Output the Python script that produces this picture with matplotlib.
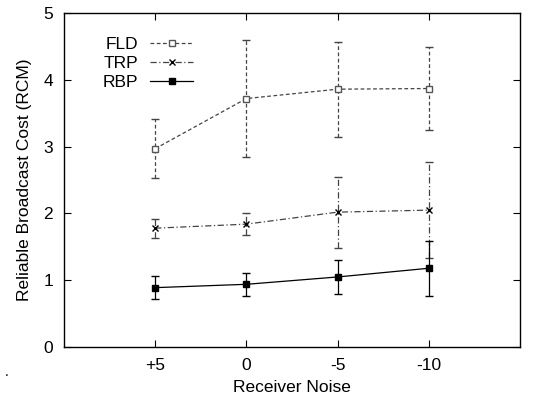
import matplotlib
matplotlib.use("Agg")
import matplotlib.pyplot as plt

plt.rcParams["font.family"] = ["Liberation Sans", "DejaVu Sans"]

categories = ["+5", "0", "-5", "-10"]
fld = [2.97, 3.72, 3.86, 3.87]
fld_err = [0.44, 0.88, 0.71, 0.62]
trp = [1.78, 1.84, 2.02, 2.05]
trp_err = [0.14, 0.16, 0.53, 0.72]
rbp = [0.89, 0.94, 1.05, 1.18]
rbp_err = [0.17, 0.17, 0.25, 0.41]

x = list(range(1, len(categories) + 1))

fig = plt.figure(figsize=(5.49, 3.94), dpi=100)
ax = fig.add_axes([0.1166, 0.119, 0.8306, 0.848])

series = [
    ("FLD", fld, fld_err, dict(ls=(0, (3, 2)), marker="s", mfc="white", mec="#555555", color="#444444", ms=5)),
    ("TRP", trp, trp_err, dict(ls=(0, (5, 2, 1, 2)), marker="x", color="#444444", mec="black", ms=4.5)),
    ("RBP", rbp, rbp_err, dict(ls="-", marker="s", mfc="black", mec="black", color="black", ms=5)),
]
handles = []
for name, vals, errs, st in series:
    line, caps, bars = ax.errorbar(x, vals, yerr=errs, capsize=3, elinewidth=0.9,
                                   lw=0.9, label=name, **st)
    for b in bars:
        b.set_linestyle(st["ls"])
    handles.append(line)

ax.set_xlim(0, 5)
ax.set_ylim(0, 5)
ax.set_xticks(x)
ax.set_xticklabels(categories)
ax.set_yticks(range(6))
ax.tick_params(direction="in", top=True, right=True, length=5, labelsize=12.5, pad=8)
for s in ax.spines.values():
    s.set_linewidth(1.0)

ax.set_xlabel("Receiver Noise", fontsize=12.5, labelpad=5)
ax.set_ylabel("Reliable Broadcast Cost (RCM)", fontsize=12.5, labelpad=8)

ax.legend(handles, [s[0] for s in series], loc="upper left", frameon=False,
          markerfirst=False, fontsize=12.5, handlelength=2.5, handletextpad=0.7,
          labelspacing=0.22, bbox_to_anchor=(0.05, 0.975))

fig.text(0.008, 0.045, ".", fontsize=10)

fig.savefig("out.png", dpi=100)
